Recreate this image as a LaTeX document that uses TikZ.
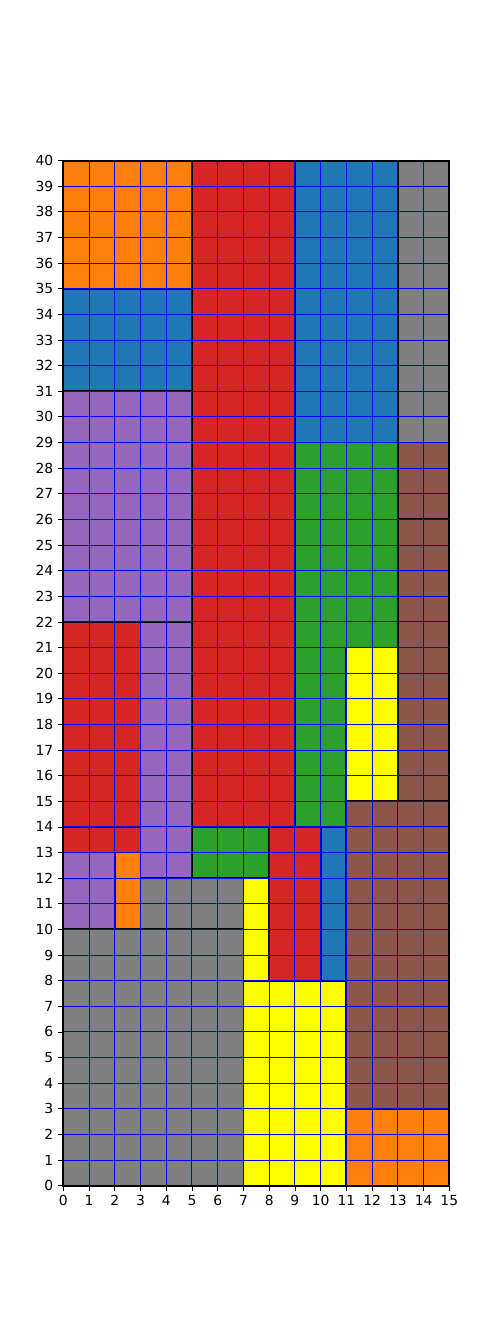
\documentclass[tikz,border=0pt]{standalone}
\usepackage{fontspec}
\setmainfont{DejaVu Sans}
\definecolor{tOrange}{HTML}{FF7F0E}
\definecolor{tRed}{HTML}{D62728}
\definecolor{tBlue}{HTML}{1F77B4}
\definecolor{tGray}{HTML}{7F7F7F}
\definecolor{tPurple}{HTML}{9467BD}
\definecolor{tGreen}{HTML}{2CA02C}
\definecolor{tBrown}{HTML}{8C564B}
\definecolor{tYellow}{HTML}{FFFF00}
\definecolor{gBlue}{RGB}{0,0,255}
\tikzset{
  cell/.style={draw=black, line width=1.4pt},
  gridline/.style={draw=gBlue, line width=0.75pt},
  spine/.style={draw=black, line width=0.85pt},
  tickmark/.style={draw=black, line width=0.6pt},
  ticklabel/.style={inner sep=0pt, font=\fontsize{10.4}{12}\selectfont}
}
\begin{document}
\begin{tikzpicture}[x=0.75pt,y=0.75pt]
\useasboundingbox (0,0) rectangle (500,1333);
\begin{scope}[shift={(63.3,147.3)}, x=19.30pt, y=19.22pt]
\foreach \a/\b/\c/\d/\col in {
  0/35/5/40/tOrange, 5/14/9/40/tRed, 9/29/13/40/tBlue, 13/29/15/40/tGray,
  0/31/5/35/tBlue, 0/22/5/31/tPurple, 9/21/13/29/tGreen, 13/26/15/29/tBrown,
  13/15/15/26/tBrown, 0/14/3/22/tRed, 3/12/5/22/tPurple, 9/14/11/21/tGreen,
  11/15/13/21/tYellow, 0/13/3/14/tRed, 0/10/2/13/tPurple, 2/10/3/13/tOrange,
  3/10/7/12/tGray, 5/12/8/14/tGreen, 8/8/10/14/tRed, 10/8/11/14/tBlue,
  7/8/8/12/tYellow, 11/3/15/15/tBrown, 0/0/7/10/tGray, 7/0/11/8/tYellow,
  11/0/15/3/tOrange}
  {\filldraw[cell, fill=\col] (\a,\b) rectangle (\c,\d);}
\foreach \i in {0,...,15} {\draw[gridline] (\i,0) -- (\i,40);}
\foreach \j in {0,...,40} {\draw[gridline] (0,\j) -- (15,\j);}
\draw[spine] (0,0) rectangle (15,40);
\foreach \i in {0,...,15} {
  \draw[tickmark] (\i,0) -- ++(0,-3.65pt);
  \node[ticklabel, anchor=north] (xl\i) at ([yshift=-7.3pt]\i,0) {\i};
}
\foreach \j in {0,...,40} {
  \draw[tickmark] (0,\j) -- ++(-3.65pt,0);
  \node[ticklabel, anchor=east] (yl\j) at ([xshift=-7.3pt]0,\j) {\j};
}
\end{scope}
\end{tikzpicture}
\end{document}
